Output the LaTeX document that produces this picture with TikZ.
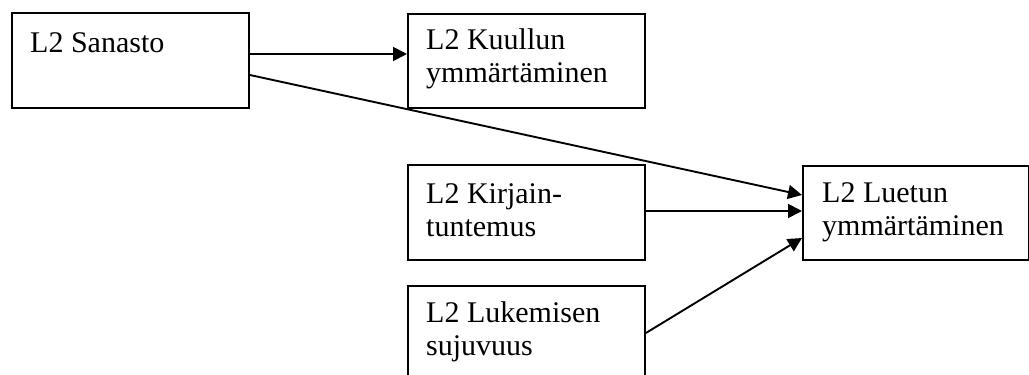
\documentclass[tikz,border=0pt]{standalone}
\usepackage{fontspec}
\setmainfont{Liberation Serif}
\usetikzlibrary{arrows.meta}
\tikzset{
  box/.style={draw, line width=1.9pt, minimum width=237pt, minimum height=95pt,
    inner sep=0pt, anchor=north west},
  txt/.style={inner sep=0pt, anchor=north west, align=left,
    font=\fontsize{30}{33.5}\selectfont},
  arr/.style={line width=1.9pt, -{Triangle[length=14pt,width=14pt]}},
}
\newcommand{\firstline}{\rule{0pt}{21pt}}
\begin{document}
\begin{tikzpicture}[x=1pt,y=1pt]
  \useasboundingbox (0,0) rectangle (1029,-375);

  % boxes
  \node[box] (san) at (11,-12) {};
  \node[box, minimum height=94pt] (kuu) at (407,-13) {};
  \node[box] (kir) at (407,-164) {};
  \node[box] (luk) at (407,-285) {};
  \node[box, minimum width=226pt, minimum height=94pt] (lue) at (802,-165) {};

  % labels
  \node[txt] (sanT) at ([xshift=19pt,yshift=-19pt]san.north west) {\firstline L2 Sanasto};
  \node[txt] (kuuT) at ([xshift=19pt,yshift=-15pt]kuu.north west) {\firstline L2 Kuullun\\ymmärtäminen};
  \node[txt] (kirT) at ([xshift=19pt,yshift=-18pt]kir.north west) {\firstline L2 Kirjain-\\tuntemus};
  \node[txt] (lukT) at ([xshift=19pt,yshift=-16pt]luk.north west) {\firstline L2 Lukemisen\\sujuvuus};
  \node[txt] (lueT) at ([xshift=20pt,yshift=-16pt]lue.north west) {\firstline L2 Luetun\\ymmärtäminen};

  % connectors
  \draw[arr] ([yshift=-42pt]san.north east) -- ([yshift=-41pt]kuu.north west);
  \draw[arr] ([yshift=-63pt]san.north east) -- ([yshift=-30pt]lue.north west);
  \draw[arr] ([yshift=-47pt]kir.north east) -- ([yshift=-46pt]lue.north west);
  \draw[arr] ([yshift=-48pt]luk.north east) -- ([yshift=-73pt]lue.north west);
\end{tikzpicture}
\end{document}
